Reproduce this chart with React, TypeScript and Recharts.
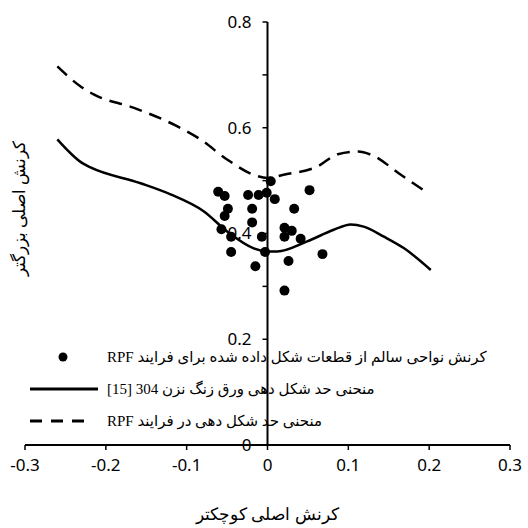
import { ComposedChart, Line, Scatter, XAxis, YAxis, ZAxis, ReferenceLine, Legend } from 'recharts';

const xTicks = [-0.3, -0.2, -0.1, 0, 0.1, 0.2, 0.3];
const yTicks = [0, 0.1, 0.2, 0.3, 0.4, 0.5, 0.6, 0.7, 0.8];

// FLC of 304 stainless sheet [15]
const flcX = [-0.26, -0.229, -0.219, -0.157, -0.12, -0.079, -0.05, -0.017, 0, 0.012, 0.049, 0.082, 0.103, 0.119, 0.144, 0.169, 0.202];
const flcY = [0.578, 0.533, 0.525, 0.495, 0.474, 0.442, 0.404, 0.372, 0.366, 0.366, 0.385, 0.407, 0.417, 0.413, 0.394, 0.372, 0.331];

// FLC in RPF process
const rpfX = [-0.26, -0.232, -0.215, -0.166, -0.112, -0.083, -0.05, -0.017, 0, 0.02, 0.062, 0.087, 0.112, 0.128, 0.165, 0.192];
const rpfY = [0.716, 0.679, 0.663, 0.638, 0.603, 0.578, 0.54, 0.511, 0.505, 0.511, 0.527, 0.55, 0.555, 0.549, 0.511, 0.483];

// safe-zone strains of formed parts
const safeX = [-0.061, -0.053, -0.024, -0.011, -0.001, 0.004, 0.009, 0.052, -0.049, -0.053, -0.019, 0.033, -0.019, -0.057, -0.045, -0.007, 0.021, 0.03, 0.021, 0.041, -0.045, -0.003, 0.026, 0.068, -0.015, 0.021];
const safeY = [0.479, 0.471, 0.473, 0.473, 0.477, 0.499, 0.465, 0.482, 0.447, 0.433, 0.447, 0.447, 0.421, 0.408, 0.394, 0.394, 0.411, 0.405, 0.394, 0.39, 0.365, 0.365, 0.348, 0.361, 0.338, 0.292];

const seriesNames = [
  'کرنش نواحی سالم از قطعات شکل داده شده برای فرایند RPF',
  'منحنی حد شکل دهی ورق زنگ نزن 304 [15]',
  'منحنی حد شکل دهی در فرایند RPF',
];
const xTitle = 'کرنش اصلی کوچکتر';
const yTitle = 'کرنش اصلی بزرگتر';

const flcData = flcX.map((x, i) => ({ x, y: flcY[i] }));
const rpfData = rpfX.map((x, i) => ({ x, y: rpfY[i] }));
const safeData = safeX.map((x, i) => ({ x, y: safeY[i] }));

const W = 528;
const H = 528;
const margin = { top: 22, right: 18, left: 24, bottom: 0 };
const Y_W = 1;
const PLOT_W = W - margin.left - Y_W - margin.right;
const numFont = '"Noto Sans", "Open Sans", sans-serif';

// y axis sits at x = 0, in the middle of the plot
const YTick = ({ x, y, payload }: any) => {
  const cx = x + PLOT_W / 2;
  const v = payload.value;
  const major = Math.round(v * 10) % 2 === 0;
  return (
    <g>
      <line x1={cx - 5} x2={cx} y1={y} y2={y} stroke="#000" strokeWidth={1.5} />
      {major && (
        <text x={cx - 16} y={y} dy="0.35em" textAnchor="end" fontSize={17} fontFamily={numFont} fill="#000">
          {v === 0 ? '0' : v.toFixed(1)}
        </text>
      )}
    </g>
  );
};

const YTitle = ({ viewBox }: any) => {
  const cx = 20;
  const cy = viewBox.y + viewBox.height / 2 - 25;
  return (
    <text x={cx} y={cy} transform={`rotate(-90 ${cx} ${cy})`} textAnchor="middle" dominantBaseline="middle"
      fontSize={17} fontFamily={numFont} fill="#000" stroke="none">
      {yTitle}
    </text>
  );
};

const LegendBox = () => (
  <div style={{ fontFamily: '"Liberation Serif", "DejaVu Sans", serif', fontSize: 15, color: '#000' }}>
    {seriesNames.map((name, i) => (
      <div key={i} style={{ display: 'flex', alignItems: 'center', height: 32 }}>
        <svg width={77} height={12} style={{ flex: 'none' }}>
          {i === 0 && <circle cx={33} cy={6} r={4.5} fill="#000" />}
          {i === 1 && <line x1={0} x2={68} y1={6} y2={6} stroke="#000" strokeWidth={3} />}
          {i === 2 && <line x1={0} x2={56} y1={6} y2={6} stroke="#000" strokeWidth={3} strokeDasharray="12 9" />}
        </svg>
        <span dir="rtl" style={{ whiteSpace: 'nowrap' }}>{name}</span>
      </div>
    ))}
  </div>
);

export default function App() {
  return (
    <div style={{ position: 'absolute', left: 0, top: 0, width: W, height: H, background: '#fff' }}>
      <ComposedChart width={W} height={H} margin={margin}>
        <XAxis
          type="number"
          dataKey="x"
          domain={[-0.3, 0.3]}
          ticks={xTicks}
          interval={0}
          height={83}
          tickFormatter={(v: number) => (v === 0 ? '0' : String(v))}
          tick={{ fontSize: 17, fill: '#000', fontFamily: numFont }}
          tickSize={5}
          tickMargin={9}
          axisLine={{ stroke: '#000', strokeWidth: 2 }}
          tickLine={{ stroke: '#000', strokeWidth: 1.5 }}
          label={{ value: xTitle, position: 'insideBottom', offset: 8, fontSize: 17, fill: '#000', fontFamily: numFont }}
        />
        <YAxis
          type="number"
          dataKey="y"
          domain={[0, 0.8]}
          ticks={yTicks}
          interval={0}
          width={Y_W}
          tickSize={0}
          tickMargin={0}
          axisLine={false}
          tickLine={false}
          tick={<YTick />}
          label={<YTitle />}
        />
        <ZAxis range={[78, 78]} />
        <ReferenceLine x={0} stroke="#000" strokeWidth={2} />
        <Line data={rpfData} dataKey="y" type="monotone" stroke="#000" strokeWidth={2.5} strokeDasharray="13 8" dot={false} isAnimationActive={false} />
        <Line data={flcData} dataKey="y" type="monotone" stroke="#000" strokeWidth={2.5} dot={false} isAnimationActive={false} />
        <Scatter data={safeData} fill="#000" isAnimationActive={false} />
        <Legend
          layout="horizontal"
          verticalAlign="middle"
          align="center"
          content={<LegendBox />}
          wrapperStyle={{ left: 30, top: 341, width: 495 }}
        />
      </ComposedChart>
    </div>
  );
}
